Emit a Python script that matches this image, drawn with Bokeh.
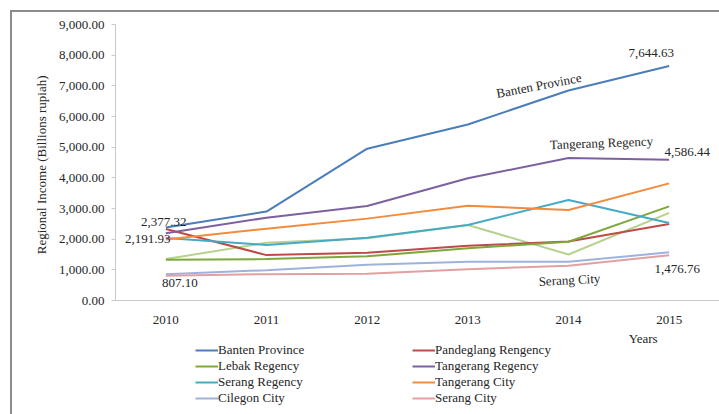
from bokeh.plotting import figure
from bokeh.models import (FactorRange, Range1d, NumeralTickFormatter, Legend, LegendItem,
                          Label, Title, FixedTicker, InlineStyleSheet)
from bokeh.embed import file_html
from bokeh.resources import INLINE

years = ["2010", "2011", "2012", "2013", "2014", "2015"]

banten_province = [2377.32, 2900, 4950, 5740, 6850, 7644.63]
pandeglang_regency = [2330, 1480, 1560, 1785, 1925, 2495]
lebak_regency = [1330, 1350, 1440, 1700, 1915, 3070]
tangerang_regency = [2191.93, 2700, 3080, 3985, 4650, 4586.44]
serang_regency = [2040, 1810, 2050, 2460, 3280, 2525]
tangerang_city = [1990, 2340, 2670, 3090, 2950, 3820]
cilegon_city = [860, 990, 1165, 1260, 1260, 1570]
serang_city = [807.10, 860, 870, 1020, 1130, 1476.76]
other_series = [1350, 1880, 2030, 2460, 1500, 2855]

y_ticks = [0, 1000, 2000, 3000, 4000, 5000, 6000, 7000, 8000, 9000]
y_max = 9000

FONT = "Liberation Serif"
TXT = "#262626"

# geometry: plotting area 276 px tall for 0..9000; the frame continues below it
# so that the legend and the "Years" title (drawn in the frame) stay visible
W, H, TOP, LEFT = 719, 414, 24, 115
PLOT_H = 276
FRAME_H = H - TOP
y_start = -y_max * (FRAME_H - PLOT_H) / PLOT_H

border_css = InlineStyleSheet(css="""
:host { position: relative; }
:host::after { content: ""; position: absolute; left: 10px; top: 10px; width: 800px; height: 600px;
  border: 2px solid #8c8c8c; pointer-events: none; box-sizing: border-box; }
""")

p = figure(x_range=FactorRange(*years), y_range=Range1d(y_start, y_max),
           width=W, height=H, frame_width=W - LEFT, frame_height=FRAME_H,
           min_border_left=LEFT, min_border_right=0, min_border_top=TOP, min_border_bottom=0,
           output_backend="svg", toolbar_location=None, background_fill_color="white",
           border_fill_color="white", outline_line_color=None, stylesheets=[border_css])
p.x_range.range_padding = 0
p.grid.visible = False

series = [
    ("Banten Province", banten_province, "#4A7EBB"),
    ("Pandeglang Rengency", pandeglang_regency, "#BE4B48"),
    ("Lebak Regency", lebak_regency, "#7FA83C"),
    ("Tangerang Regency", tangerang_regency, "#7D60A0"),
    ("Serang Regency", serang_regency, "#46AAC5"),
    ("Tangerang City", tangerang_city, "#F38B3C"),
    ("Cilegon City", cilegon_city, "#9DB3DE"),
    ("Serang City", serang_city, "#E3A0A0"),
]
renderers = {}
r_other = p.line(years, other_series, line_color="#B7D28E", line_width=2)
for name, vals, col in series:
    renderers[name] = p.line(years, vals, line_color=col, line_width=2)

# axes
p.yaxis.ticker = FixedTicker(ticks=y_ticks)
p.yaxis.bounds = (0, y_max)
p.yaxis.formatter = NumeralTickFormatter(format="0,0.00")
for ax in (p.xaxis[0], p.yaxis[0]):
    ax.axis_line_color = "#C8C8C8"
    ax.major_label_text_font = FONT
    ax.major_label_text_font_size = "13px"
    ax.major_label_text_color = TXT
    ax.minor_tick_line_color = None
p.yaxis.major_tick_line_color = "#C8C8C8"
p.yaxis.major_tick_in = 0
p.yaxis.major_tick_out = 4
p.yaxis.major_label_standoff = 7
p.xaxis.fixed_location = 0
p.xaxis.major_tick_line_color = None
p.xaxis.major_label_standoff = 9

# y axis title (left side, centred on the 0..9000 part)
p.add_layout(Title(text="Regional Income (Billions rupiah)", align="right", offset=51,
                   standoff=14, text_font=FONT, text_font_size="13px", text_color=TXT,
                   text_font_style="normal"), "left")

# legend: two columns
col1 = ["Banten Province", "Lebak Regency", "Serang Regency", "Cilegon City"]
col2 = ["Pandeglang Rengency", "Tangerang Regency", "Tangerang City", "Serang City"]
for names, lx in ((col1, 80), (col2, 297)):
    leg = Legend(items=[LegendItem(label=n, renderers=[renderers[n]]) for n in names],
                 location=(lx, 8), orientation="vertical", padding=0, margin=0,
                 spacing=0, glyph_width=23, glyph_height=14, label_height=14,
                 label_standoff=0, border_line_alpha=0, background_fill_alpha=0,
                 label_text_font=FONT, label_text_font_size="13px", label_text_color=TXT)
    p.add_layout(leg, "center")

def lab(text, xi, yv, dx, dy, angle=0.0):
    p.add_layout(Label(x=xi + 0.5, y=yv, x_offset=dx, y_offset=dy, text=text,
                       text_font=FONT, text_font_size="13px", text_color=TXT,
                       text_align="center", text_baseline="middle", angle=angle))

fmt = lambda v: f"{v:,.2f}"
lab(fmt(banten_province[0]), 0, banten_province[0], -2, 6)
lab(fmt(tangerang_regency[0]), 0, tangerang_regency[0], -18, -6)
lab(fmt(serang_city[0]), 0, serang_city[0], 14, -7)
lab(fmt(banten_province[5]), 5, banten_province[5], -18, 13)
lab(fmt(tangerang_regency[5]), 5, tangerang_regency[5], 18, 8)
lab(fmt(serang_city[5]), 5, serang_city[5], 8, -14)
lab("Banten Province", 3, banten_province[3], 71, 39, 0.19)
lab("Tangerang Regency", 4, tangerang_regency[4], 33, 15, 0.035)
lab("Serang City", 4, serang_city[4], 1, -14, 0.05)
lab("Years", 5, 0, -26, -38)

open("out.html", "w").write(file_html(p, INLINE))
